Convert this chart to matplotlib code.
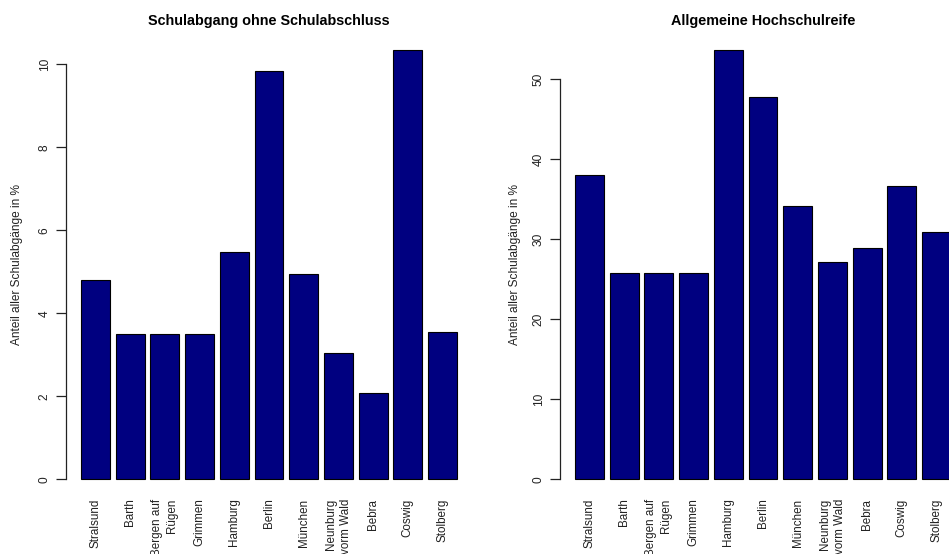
import numpy as np
import matplotlib.pyplot as plt

plt.rcParams['font.family'] = ['Liberation Sans', 'DejaVu Sans']

orte = ['Stralsund', 'Barth', 'Bergen auf\nRügen', 'Grimmen', 'Hamburg', 'Berlin',
        'München', 'Neunburg\nvorm Wald', 'Bebra', 'Coswig', 'Stolberg']
ohne_abschluss = [4.79, 3.50, 3.50, 3.50, 5.48, 9.83, 4.94, 3.05, 2.07, 10.35, 3.55]
hochschulreife = [38.0, 25.8, 25.8, 25.8, 53.7, 47.8, 34.2, 27.2, 28.9, 36.6, 30.9]
ticks_links = [0, 2, 4, 6, 8, 10]
ticks_rechts = [0, 10, 20, 30, 40, 50]

# Balkenpositionen wie bei barplot(): Breite 1, Abstand 0.2
x = 0.7 + 1.2 * np.arange(len(orte))

fig = plt.figure(figsize=(9.49, 5.54), dpi=100)
W, H = 949, 554
breite = 406 / W
hoehe = 464 / H
unten = 57.5 / H
ax1 = fig.add_axes([66 / W, unten, breite, hoehe])
ax2 = fig.add_axes([560 / W, unten, breite, hoehe])


def balken(ax, werte, titel, yticks, ylab_x):
    ax.bar(x, werte, width=1, color='#000080', edgecolor='black', linewidth=0.8)
    ax.set_xlim(x[0] - 0.5 - 0.52, x[-1] + 0.5 + 0.52)
    top = max(werte)
    ax.set_ylim(-0.04 * top, 1.04 * top)
    for s in ['top', 'right', 'bottom']:
        ax.spines[s].set_visible(False)
    ax.spines['left'].set_bounds(yticks[0], yticks[-1])
    ax.spines['left'].set_linewidth(0.9)
    ax.spines['left'].set_color('#222222')
    ax.set_yticks(yticks)
    ax.set_yticklabels([str(t) for t in yticks], rotation=90, va='center', fontsize=8.6)
    ax.tick_params(axis='y', length=7, width=0.9, color='#222222', pad=4, labelcolor='#222222')
    ax.set_xticks(x)
    ax.set_xticklabels(orte, rotation=90, va='top', ha='center', multialignment='right',
                       fontsize=8.4, linespacing=1.35, color='#222222')
    ax.tick_params(axis='x', length=0, pad=1.5)
    ax.set_ylabel('Anteil aller Schulabgänge in %', fontsize=8.6, color='#222222')
    ax.yaxis.set_label_coords(ylab_x / 406, 0.5)
    ax.set_title(titel, fontsize=10.4, fontweight='bold', pad=5.5)


balken(ax1, ohne_abschluss, 'Schulabgang ohne Schulabschluss', ticks_links, -43)
balken(ax2, hochschulreife, 'Allgemeine Hochschulreife', ticks_rechts, -39)

fig.savefig('out.png', dpi=100)
